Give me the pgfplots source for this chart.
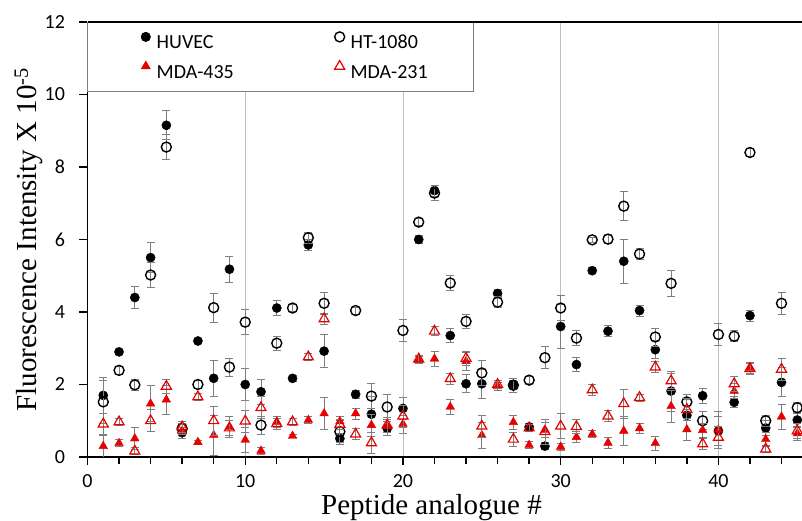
\documentclass[border=0pt]{standalone}
\usepackage{fontspec}
\setmainfont{Carlito}
\newfontfamily\timesfont{Liberation Serif}
\usepackage{pgfplots}
\usepackage{pgfplotstable}
\pgfplotsset{compat=1.18}

\definecolor{mdared}{HTML}{E60000}
\definecolor{errgray}{HTML}{7F7F7F}
\definecolor{gridgray}{HTML}{BFBFBF}

% peptide, HUVEC, err, HT-1080, err, MDA-435, err, MDA-231, err
\pgfplotstableread{
x  hu   hue  ht   hte  ma   mae  mb   mbe
1  1.70 0.50 1.52 0.60 0.30 0.30 0.91 0.30
2  2.90 0.08 2.39 0.10 0.38 0.10 0.97 0.10
3  4.40 0.30 1.99 0.15 0.51 0.30 0.16 0.10
4  5.50 0.42 5.02 0.35 1.47 0.50 1.00 0.30
5  9.15 0.40 8.55 0.35 1.58 0.40 1.95 0.20
6  0.67 0.15 0.79 0.15 0.72 0.10 0.83 0.15
7  3.20 0.08 2.00 0.10 0.41 0.05 1.66 0.10
8  2.17 0.50 4.12 0.40 0.60 0.55 1.00 0.40
9  5.18 0.35 2.48 0.25 0.83 0.30 0.80 0.20
10 2.00 0.45 3.72 0.35 0.47 0.35 0.99 0.30
11 1.80 0.35 0.88 0.25 0.17 0.10 1.36 0.30
12 4.11 0.20 3.14 0.20 0.97 0.15 0.92 0.15
13 2.17 0.08 4.11 0.10 0.58 0.05 0.97 0.10
14 5.85 0.15 6.05 0.15 1.02 0.10 2.76 0.10
15 2.92 0.45 4.24 0.30 1.20 0.45 3.81 0.15
16 0.51 0.15 0.70 0.30 0.98 0.15 0.90 0.15
17 1.73 0.10 4.04 0.10 1.20 0.15 0.63 0.15
18 1.18 0.50 1.68 0.35 0.88 0.30 0.39 0.30
19 0.79 0.20 1.38 0.35 0.85 0.25 0.88 0.20
20 1.34 0.30 3.49 0.30 0.91 0.25 1.13 0.30
21 6.00 0.12 6.48 0.10 2.68 0.10 2.70 0.10
22 7.35 0.15 7.28 0.20 2.71 0.20 3.47 0.12
23 3.35 0.20 4.80 0.20 1.38 0.20 2.16 0.15
24 2.02 0.25 3.74 0.20 2.64 0.25 2.72 0.20
25 2.02 0.40 2.32 0.35 0.60 0.35 0.85 0.30
26 4.51 0.10 4.27 0.15 1.95 0.10 2.00 0.10
27 2.00 0.10 1.98 0.20 0.96 0.20 0.49 0.20
28 0.83 0.10 2.12 0.10 0.33 0.10 0.80 0.10
29 0.30 0.10 2.74 0.30 0.75 0.20 0.70 0.35
30 3.60 0.60 4.11 0.35 0.28 0.10 0.85 0.35
31 2.55 0.20 3.28 0.20 0.55 0.15 0.84 0.20
32 5.14 0.08 5.99 0.08 0.63 0.10 1.85 0.15
33 3.47 0.15 6.01 0.12 0.39 0.15 1.13 0.15
34 5.40 0.60 6.92 0.40 0.72 0.40 1.47 0.40
35 4.04 0.15 5.60 0.15 0.79 0.15 1.64 0.10
36 2.96 0.25 3.31 0.25 0.38 0.20 2.48 0.15
37 1.82 0.55 4.79 0.35 1.40 0.45 2.10 0.20
38 1.15 0.45 1.52 0.20 0.76 0.30 1.31 0.30
39 1.69 0.20 1.00 0.25 0.74 0.20 0.36 0.15
40 0.72 0.40 3.38 0.30 0.75 0.50 0.54 0.30
41 1.51 0.15 3.33 0.15 1.82 0.20 2.02 0.20
42 3.90 0.15 8.40 0.12 2.46 0.15 2.44 0.15
43 0.80 0.20 1.00 0.15 0.49 0.20 0.22 0.10
44 2.06 0.40 4.24 0.30 1.11 0.35 2.42 0.30
45 1.02 0.20 1.36 0.15 0.65 0.20 0.72 0.20
}\pepdata

\begin{document}
\begin{tikzpicture}
\begin{axis}[
  width=714.5pt, height=435pt, scale only axis,
  xmin=0, xmax=45.3, ymin=0, ymax=12,
  axis lines=left, axis line style={-, line width=1.6pt, black},
  xtick={0,10,...,40}, minor xtick={2,4,...,44},
  ytick={0,2,...,12},
  tick align=outside, major tick length=8pt, minor tick length=7pt,
  every tick/.style={black, line width=1.4pt},
  xmajorgrids, major grid style={gridgray, line width=0.9pt},
  tick label style={font=\fontsize{20}{24}\selectfont},
  /pgf/number format/assume math mode=true,
  yticklabel style={xshift=-11pt},
  xticklabel style={yshift=-6pt},
  xlabel={\timesfont Peptide analogue \#},
  ylabel={\timesfont Fluorescence Intensity X 10\textsuperscript{-5}},
  label style={font=\fontsize{29}{34}\selectfont},
  xlabel style={at={(axis description cs:0.4815,-0.133)}, anchor=base},
  ylabel style={at={(axis description cs:-0.0707,0.5)}, anchor=base, rotate=0},
  clip marker paths=true,
  error bars/y dir=both, error bars/y explicit,
  error bars/error bar style={errgray, line width=0.8pt},
  error bars/error mark options={rotate=90, errgray, line width=0.8pt, mark size=4pt},
  legend columns=2,
  legend style={at={(rel axis cs:0,1)}, anchor=north west,
    draw=errgray, line width=0.8pt, fill=white,
    inner xsep=44pt, inner ysep=9.5pt, row sep=8pt,
    font=\fontsize{20}{24}\selectfont,
    /tikz/every even column/.append style={column sep=90pt}},
  legend cell align=left,
  lgimg/.style={legend image code/.code={\draw[##1] plot coordinates {(13.5pt,6pt)}; \path (0pt,0pt) (22pt,0pt);}},
]
\addplot[only marks, mark=*, mark size=4.6pt, black, lgimg]
  table[x=x, y=hu, y error=hue] {\pepdata};
\addlegendentry{HUVEC}
\addplot[only marks, mark=o, mark size=5pt, black, mark options={line width=1.4pt}, lgimg]
  table[x=x, y=ht, y error=hte] {\pepdata};
\addlegendentry{HT-1080}
\addplot[only marks, mark=triangle*, mark size=5pt, mdared, lgimg]
  table[x=x, y=ma, y error=mae] {\pepdata};
\addlegendentry{MDA-435}
\addplot[only marks, mark=triangle, mark size=5.8pt, mdared, mark options={line width=1.2pt}, lgimg]
  table[x=x, y=mb, y error=mbe] {\pepdata};
\addlegendentry{MDA-231}
\end{axis}
\draw[line width=1.6pt] (current axis.north west) -- (current axis.north east);
\pgfresetboundingbox
\path (-87.5pt,-64pt) rectangle (714.5pt,457pt);
\end{tikzpicture}
\end{document}
